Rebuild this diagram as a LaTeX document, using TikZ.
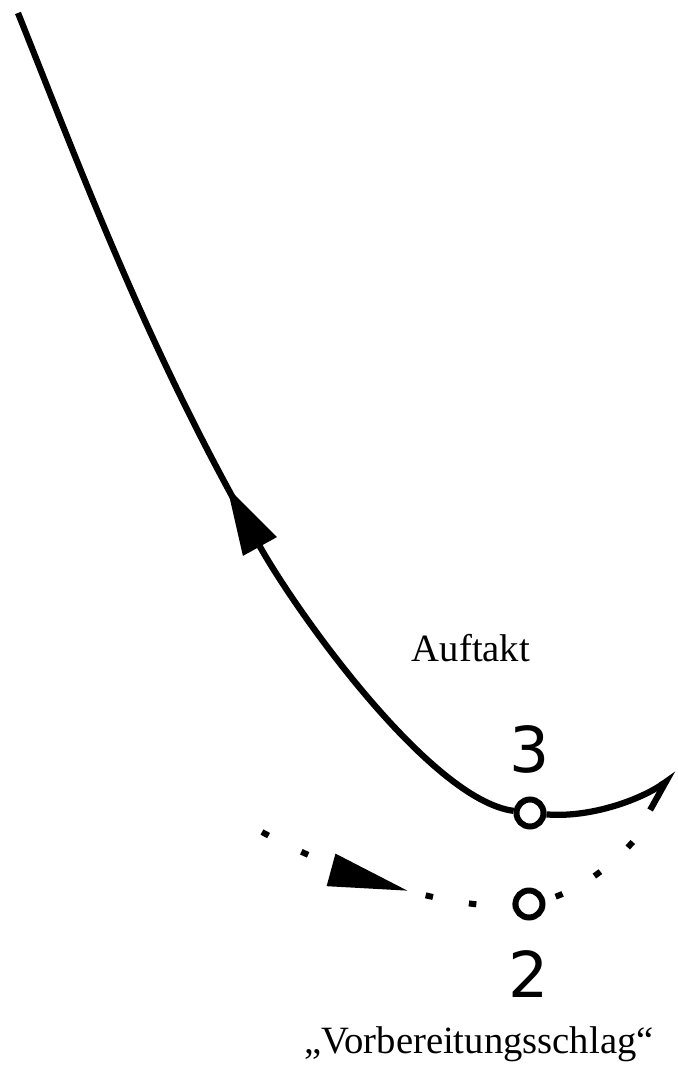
\documentclass[tikz,border=0pt]{standalone}
\usepackage{fontspec}
\setmainfont{Liberation Serif}
\newfontfamily\digitfont{DejaVu Sans}
\usetikzlibrary{arrows.meta,positioning,decorations.markings}
\tikzset{
  beat/.style={
    circle,
    draw,
    fill=white,
    line width=0.12cm,
    minimum size=0.54cm,
    inner sep=0pt
  },
  beatnum/.style={
    inner sep=0pt,
    font=\digitfont\fontsize{36}{36}\selectfont
  },
  caption/.style={
    inner sep=0pt,
    anchor=base,
    font=\fontsize{22}{26}\selectfont
  },
  motion/.style={
    line width=0.125cm
  },
  prep/.style={
    line width=0.12cm,
    dash pattern=on 0.15cm off 0.73cm
  },
  bigtip/.style={
    -{Triangle[length=1.36cm,width=0.74cm]}
  }
}

\begin{document}
\begin{tikzpicture}[x=0.02cm,y=-0.02cm]
\useasboundingbox (0,0) rectangle (677,1067);
% points on the beat path
\coordinate (top) at (18,13);
\coordinate (tipA) at (227,487);
\coordinate (rend) at (677,774);
\coordinate (prepstart) at (262,832);
\coordinate (beat2) at (529,904);
\coordinate (prepend) at (643,830);
\node[beat] (c3) at (530,813) {};
\node[beatnum, above=0.46cm of c3] (n3) {3};
% Auftakt
\draw[motion, shorten <=-0.4cm] (tipA) .. controls (139,327) and (78,163) .. (top);
\draw[motion, bigtip] (c3) .. controls (430,800) and (295,610) .. (tipA);
\draw[motion, -{Straight Barb[harpoon,swap,length=0.58cm,width=0.56cm]}] (c3) .. controls (590,818) and (640,800) .. (rend);
% Vorbereitungsschlag
\draw[prep, postaction={decorate},
  decoration={markings, mark=at position 3.16cm with {\pgfsetdash{}{0pt}\arrow{Triangle[length=1.6cm,width=0.64cm]}}}]
  (prepstart) .. controls (340,875) and (460,915) .. (beat2)
  .. controls (575,896) and (615,865) .. (prepend);
\node[beat] (c2) at (beat2) {};
\node[beatnum, below=0.6cm of c2] (n2) {2};
\node[caption] (auftakt) at (471,661) {Auftakt};
\node[caption] (vorb) at (479,1053) {„Vorbereitungsschlag“};
\end{tikzpicture}
\end{document}
